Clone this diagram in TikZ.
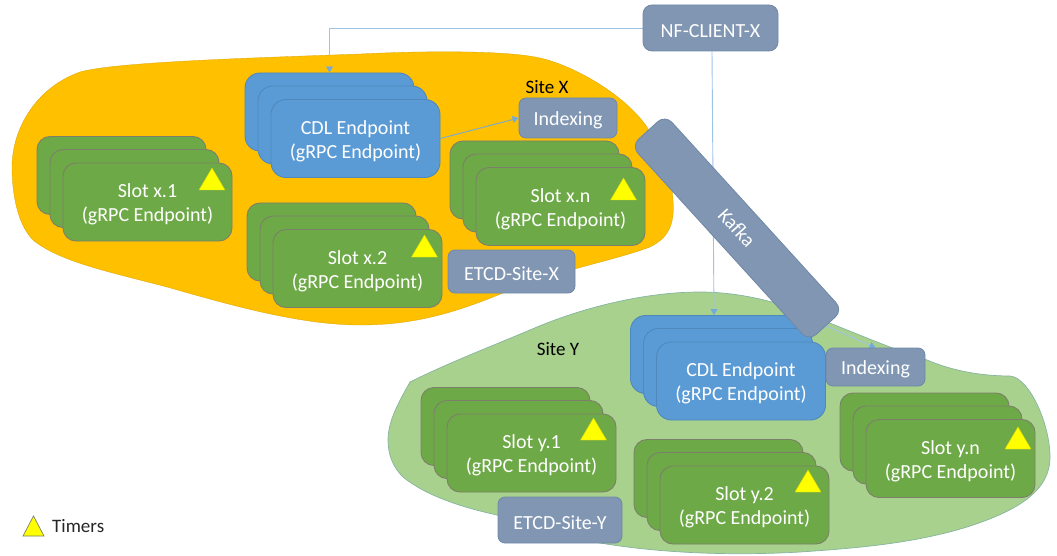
\documentclass[tikz,border=0pt]{standalone}
\usepackage{fontspec}
\setmainfont{Carlito}
\usetikzlibrary{arrows.meta}
\definecolor{orangeblob}{HTML}{FFC000}
\definecolor{greenblob}{HTML}{A9D18E}
\definecolor{slotgreen}{HTML}{6EA947}
\definecolor{slotedge}{HTML}{7C7F6A}
\definecolor{cdlblue}{HTML}{5B9BD5}
\definecolor{cdledge}{HTML}{4F88BC}
\definecolor{slate}{HTML}{8096B2}
\definecolor{slateedge}{HTML}{6F88A8}
\definecolor{wireblue}{HTML}{9DC3E6}
\definecolor{tritone}{HTML}{FFFF00}
\pgfdeclarelayer{blobs}
\pgfdeclarelayer{wires}
\pgfsetlayers{blobs,wires,main}
\tikzset{
  x=1pt,y=-1pt,
  lbl/.style={font=\fontsize{20}{24}\selectfont,text=white,align=center,inner sep=0pt},
  slotbox/.style={lbl,draw=slotedge,line width=0.9pt,fill=slotgreen,rounded corners=13pt,minimum width=169pt,minimum height=78pt},
  cdlbox/.style={lbl,draw=cdledge,line width=0.9pt,fill=cdlblue,rounded corners=15pt,minimum width=169pt,minimum height=78pt},
  slatebox/.style={lbl,draw=slateedge,line width=0.8pt,fill=slate,rounded corners=7pt},
  wire/.style={draw=wireblue,line width=0.9pt,-{Triangle[length=6pt,width=7pt,color=cdlblue!85!white]}},
  timer/.style={fill=tritone,draw=tritone!85!black,line width=0.4pt},
}
\newcommand{\tstrut}{\rule{0pt}{19pt}}
\newcommand{\stackbox}[5]{% name, style, front-centre x, y, text
  \node[#2] (#1a) at (#3-26,#4-26.5) {};
  \node[#2] (#1b) at (#3-13,#4-13.5) {};
  \node[#2] (#1) at (#3,#4) {\tstrut #5};
}
\newcommand{\timertri}[2]{% apex x, y
  \draw[timer] (#1-13,#2+22) -- (#1+13,#2+22) -- (#1,#2) -- cycle;
}
\begin{document}
\begin{tikzpicture}
\useasboundingbox (0,0) rectangle (1057,556);
\begin{pgfonlayer}{blobs}
\fill[orangeblob,draw=orangeblob!85!black,line width=0.3pt]
  (12,167) .. controls (12,130) and (35,88) .. (80,72)
  .. controls (115,62) and (250,58) .. (360,54)
  .. controls (420,51) and (505,50) .. (540,58)
  .. controls (575,66) and (625,95) .. (647,127)
  .. controls (660,150) and (672,175) .. (673,200)
  .. controls (675,225) and (668,238) .. (650,247)
  .. controls (610,262) and (550,272) .. (503,293)
  .. controls (450,315) and (410,325) .. (360,325)
  .. controls (300,325) and (230,305) .. (167,287)
  .. controls (110,272) and (60,262) .. (33,240)
  .. controls (18,225) and (12,195) .. (12,167) -- cycle;
\fill[greenblob,draw=greenblob!60!cdledge,line width=0.7pt]
  (410,382) .. controls (450,362) and (495,345) .. (537,327)
  .. controls (590,305) and (650,292) .. (700,292)
  .. controls (745,292) and (790,305) .. (827,322)
  .. controls (860,335) and (895,350) .. (927,360)
  .. controls (955,372) and (985,376) .. (1010,376)
  .. controls (1030,378) and (1050,425) .. (1050,457)
  .. controls (1050,490) and (1020,510) .. (967,527)
  .. controls (915,543) and (860,548) .. (800,552)
  .. controls (730,556) and (660,553) .. (600,543)
  .. controls (560,535) and (530,528) .. (497,515)
  .. controls (460,507) and (425,495) .. (403,477)
  .. controls (393,467) and (388,455) .. (388,440)
  .. controls (388,420) and (400,400) .. (410,382) -- cycle;
\end{pgfonlayer}
\node[lbl,text=black,font=\fontsize{19}{23}\selectfont] (sitex) at (547,87) {Site X};
\node[lbl,text=black,font=\fontsize{19}{23}\selectfont] (sitey) at (558,349) {Site Y};
\stackbox{cdlx}{cdlbox}{355.5}{138.5}{CDL Endpoint\\(gRPC Endpoint)}
\stackbox{slotx1}{slotbox}{147.5}{202}{Slot x.1\\(gRPC Endpoint)}
\stackbox{slotx2}{slotbox}{357.5}{268.5}{Slot x.2\\(gRPC Endpoint)}
\stackbox{slotxn}{slotbox}{560.5}{206.5}{Slot x.n\\(gRPC Endpoint)}
\stackbox{cdly}{cdlbox}{741}{381}{CDL Endpoint\\(gRPC Endpoint)}
\stackbox{sloty1}{slotbox}{531.5}{453}{Slot y.1\\(gRPC Endpoint)}
\stackbox{sloty2}{slotbox}{744.5}{505}{Slot y.2\\(gRPC Endpoint)}
\stackbox{slotyn}{slotbox}{950.5}{458.5}{Slot y.n\\(gRPC Endpoint)}
\timertri{212}{168}
\timertri{424.5}{235}
\timertri{623.5}{178}
\timertri{593.5}{418}
\timertri{808}{470}
\timertri{1018}{427}
\node[slatebox,minimum width=98pt,minimum height=40pt] (idxx) at (568,118) {\tstrut Indexing};
\node[slatebox,minimum width=99pt,minimum height=38pt] (idxy) at (875.5,367) {\tstrut Indexing};
\node[slatebox,minimum width=127pt,minimum height=43pt] (etcdx) at (511.5,271.5) {\tstrut ETCD-Site-X};
\node[slatebox,minimum width=124pt,minimum height=46pt] (etcdy) at (560,520) {\tstrut ETCD-Site-Y};
\node[slatebox,minimum width=135pt,minimum height=46pt,rounded corners=9pt] (client) at (710.5,28) {\tstrut NF-CLIENT-X};
\node[slatebox,rotate=-47.7,minimum width=264pt,minimum height=46pt,rounded corners=10pt] (kafka) at (737,228) {Kafka};
\begin{pgfonlayer}{wires}
\coordinate (elbow) at (cdlxa.north |- client.west);
\draw[wire] (client.west) -- (elbow) -- (cdlxa.north);
\draw[wire] (client.south -| 712,0) -- (cdlya.north -| 714,0);
\draw[wire] (kafka.east) -- (idxy.north);
\end{pgfonlayer}
\draw[wire,draw=cdlblue!85!white] (cdlx.east) -- (idxx.west);
\draw[fill=tritone,draw=slotedge,line width=0.7pt] (23,536) -- (44,536) -- (33.5,516) -- cycle;
\node[lbl,text=black!85,anchor=west,font=\fontsize{19}{23}\selectfont] (timers) at (52,526) {Timers};
\end{tikzpicture}
\end{document}
